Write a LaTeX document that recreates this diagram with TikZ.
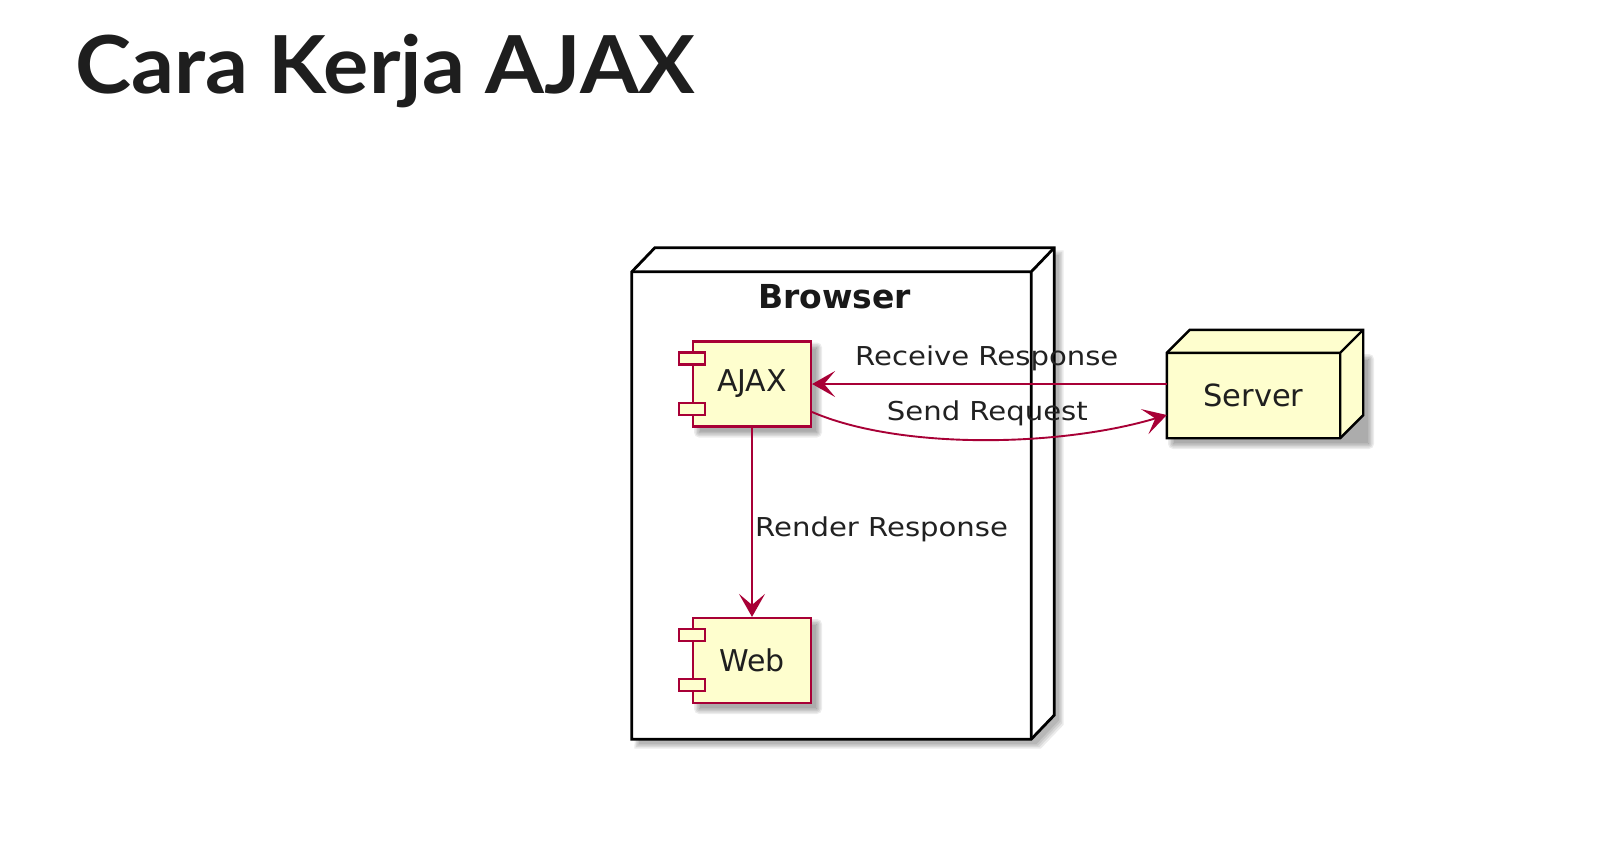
\documentclass[tikz,border=0pt]{standalone}
\usepackage{fontspec}
\usepackage{graphicx}
\usetikzlibrary{arrows.meta,calc}
\newfontfamily\djv{DejaVu Sans}
\newfontfamily\ttlfont{Lato}
\definecolor{umlred}{HTML}{A80036}
\definecolor{umlfill}{HTML}{FEFECE}
\definecolor{ttl}{HTML}{1E1E1E}
\newcommand\softshadow[2]{%
  \foreach \e in {-1,0.5,2,3.5,5}{%
    \fill[black,opacity=0.075,rounded corners=\e pt] ($(#1)+(6-\e,6-\e)$) rectangle ($(#2)+(6+\e,6+\e)$);}}
\tikzset{
  compbox/.style={draw=umlred, fill=umlfill, line width=2.2pt, inner sep=0pt,
    minimum width=118pt, minimum height=85pt, text=black!88,
    font=\djv\fontsize{30}{34}\selectfont},
  portbox/.style={draw=umlred, fill=umlfill, line width=2.2pt},
  nodeline/.style={draw=black, line width=2.8pt, line join=miter},
  conn/.style={draw=umlred, line width=1.9pt, -{Stealth[length=23pt,width=26pt,inset=11pt]}},
  lbl/.style={inner sep=0pt, text=black!87, font=\djv\fontsize{26}{30}\selectfont},
}
\begin{document}
\begin{tikzpicture}[x=1pt,y=-1pt]
\path[use as bounding box, fill=white] (0,0) rectangle (1600,856);

% title
\node[anchor=base west, inner sep=0pt, text=ttl] (title) at (75,94)
  {\resizebox{620pt}{\height}{\ttlfont\bfseries\fontsize{80}{90}\selectfont Cara Kerja AJAX}};

% Browser node (3D box)
\node[inner sep=0pt, minimum width=399pt, minimum height=467pt] (browser) at (831.5,505.5) {};
\foreach \e in {-1,0.5,2,3.5}{%
  \fill[black,opacity=0.08] ($(browser.north west)+(29-\e,-18-\e)$) -- ($(browser.north east)+(29+\e,-18-\e)$)
    -- ($(browser.south east)+(29+\e,-18+\e)$) -- ($(browser.south east)+(6+\e,6+\e)$)
    -- ($(browser.south west)+(6-\e,6+\e)$) -- cycle;}
\fill[white] (browser.north west) -- ++(23,-24) -- ($(browser.north east)+(23,-24)$)
  -- ($(browser.south east)+(23,-24)$) -- (browser.south east) -- (browser.south west) -- cycle;
\draw[nodeline] (browser.north west) -- ++(23,-24) -- ($(browser.north east)+(23,-24)$)
  -- ($(browser.south east)+(23,-24)$) -- (browser.south east) -- (browser.south west) -- cycle;
\draw[nodeline] (browser.north west) -- (browser.north east) -- (browser.south east)
  (browser.north east) -- ++(23,-24);
\node[anchor=base, inner sep=0pt, text=black!90, font=\djv\bfseries\fontsize{33}{36}\selectfont] (browserlbl) at (834.5,308) {Browser};

% Server node (3D box)
\coordinate (srvc) at (1253.5,395.5);
\softshadow{1167,353}{1363,438}
\node[inner sep=0pt, minimum width=173pt, minimum height=85pt] (server) at (srvc) {};
\fill[umlfill] (server.north west) -- ++(23,-23) -- ($(server.north east)+(23,-23)$)
  -- ($(server.south east)+(23,-23)$) -- (server.south east) -- (server.south west) -- cycle;
\draw[nodeline, line width=2.4pt] (server.north west) -- ++(23,-23) -- ($(server.north east)+(23,-23)$)
  -- ($(server.south east)+(23,-23)$) -- (server.south east) -- (server.south west) -- cycle;
\draw[nodeline, line width=2.4pt] (server.north west) -- (server.north east) -- (server.south east)
  (server.north east) -- ++(23,-23);
\node[inner sep=0pt, text=black!88, font=\djv\fontsize{30.5}{34}\selectfont] (servertxt) at (srvc) {Server};

% components
\softshadow{693,341.5}{811,426.5}
\node[compbox] (ajax) at (752,384) {AJAX};
\draw[portbox] ($(ajax.north west)+(-13,12)$) rectangle ++(26,12);
\draw[portbox] ($(ajax.south west)+(-13,-25)$) rectangle ++(26,12);

\softshadow{693,618}{811,703}
\node[compbox] (web) at (752,660.5) {Web};
\draw[portbox] ($(web.north west)+(-13,12)$) rectangle ++(26,12);
\draw[portbox] ($(web.south west)+(-13,-25)$) rectangle ++(26,12);

% connectors
\draw[conn] (server.west |- ajax.east) -- (ajax.east);
\draw[conn] ($(ajax.east)+(0,28)$) .. controls (900,450) and (1060,447) .. ($(server.west)+(0,19.5)$);
\draw[conn] (ajax.south) -- (web.north);

% labels
\node[lbl, anchor=base west] (lrecv) at (855,365) {\scalebox{1.12}[1]{Receive Response}};
\node[lbl, anchor=base west] (lsend) at (886.7,420) {\scalebox{1.12}[1]{Send Request}};
\node[lbl, anchor=base west] (lrend) at (755,536.7) {\scalebox{1.12}[1]{Render Response}};
\end{tikzpicture}
\end{document}
